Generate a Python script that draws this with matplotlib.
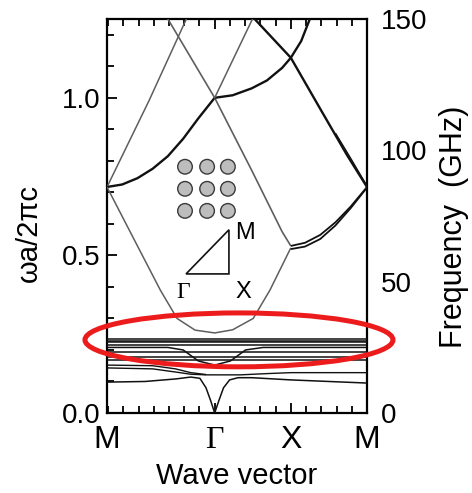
import numpy as np
import matplotlib
matplotlib.use("Agg")
import matplotlib.pyplot as plt
from matplotlib.patches import Ellipse, Polygon

plt.rcParams['font.family'] = ['Liberation Sans', 'DejaVu Sans']

# path through the Brillouin zone: M - Gamma - X - M (k in units of pi/a)
K_M1, K_G, K_X, K_M2 = 0.0, np.sqrt(2.0), np.sqrt(2.0) + 1.0, np.sqrt(2.0) + 2.0
sym_pos = [K_M1, K_G, K_X, K_M2]
sym_labels = ['M', 'Γ', 'X', 'M']

# normalised-frequency ticks (left) and GHz ticks (right)
y_ticks = [0.0, 0.5, 1.0]
ghz_ticks = [0, 50, 100, 150]
GHZ_PER_UNIT = 120.0

# ---- upper (light-like) bands ----
band_a_k = [0.00, 0.55, 1.08]
band_a_w = [0.717, 0.99, 1.27]

band_b_k = [0.00, 0.20, 0.40, 0.60, 0.80, 1.00, 1.20, 1.414]
band_b_w = [0.717, 0.725, 0.745, 0.775, 0.815, 0.870, 0.935, 1.000]

band_c_k = [0.77, 1.414, 1.90, 2.30, 2.414]
band_c_w = [1.262, 1.000, 0.770, 0.575, 0.530]

band_d_k = [0.00, 0.40, 0.70, 0.92, 1.156, 1.414, 1.65, 1.92, 2.14, 2.414]
band_d_w = [0.717, 0.530, 0.390, 0.300, 0.263, 0.254, 0.264, 0.300, 0.390, 0.524]

band_d2_k = [2.414, 2.60, 2.80, 3.00, 3.20, 3.414]
band_d2_w = [0.530, 0.540, 0.565, 0.605, 0.655, 0.717]
band_d3_k = [2.414, 2.60, 2.80, 3.00, 3.20, 3.414]
band_d3_w = [0.520, 0.528, 0.552, 0.595, 0.650, 0.715]

band_e_k = [1.90, 2.414, 2.80, 3.15, 3.414]
band_e_w = [1.260, 1.127, 0.965, 0.819, 0.717]
band_e2_k = [3.00, 3.20, 3.414]
band_e2_w = [0.888, 0.808, 0.720]

band_f_k = [1.414, 1.65, 1.90, 2.10, 2.30, 2.414, 2.55, 2.68]
band_f_w = [1.000, 1.008, 1.030, 1.055, 1.095, 1.127, 1.180, 1.260]

band_g_k = [1.414, 1.93]
band_g_w = [1.000, 1.260]

# ---- low-frequency flat bands ----
flat_levels = [0.235, 0.230, 0.225, 0.216, 0.194, 0.178, 0.168]

band_h_k = [0.00, 0.80, 1.00, 1.20, 1.414, 1.62, 1.82, 2.05, 2.414, 3.414]
band_h_w = [0.208, 0.208, 0.200, 0.165, 0.152, 0.165, 0.200, 0.208, 0.208, 0.208]

band_i_k = [0.00, 0.60, 0.90, 1.10, 1.30]
band_i_w = [0.152, 0.150, 0.140, 0.128, 0.122]

band_j_k = [0.00, 0.60, 0.90, 1.10, 1.30, 1.55, 1.75, 2.10, 2.414, 3.414]
band_j_w = [0.143, 0.140, 0.130, 0.123, 0.121, 0.121, 0.121, 0.125, 0.128, 0.128]

band_l_k = [0.00, 0.50, 0.90, 1.10, 1.22, 1.30, 1.36, 1.414, 1.47, 1.53, 1.61, 1.72, 1.90, 2.414, 3.414]
band_l_w = [0.098, 0.100, 0.108, 0.114, 0.110, 0.080, 0.040, 0.000, 0.040, 0.080, 0.105, 0.112, 0.112, 0.105, 0.095]

fig = plt.figure(figsize=(4.72, 4.93), dpi=100)
ax = fig.add_axes([107 / 472, 1 - 413 / 493, 260 / 472, 394 / 493])

dark = '#111111'
grey = '#5e5e5e'

def draw(k, w, color=dark, lw=1.5):
    ax.plot(k, w, color=color, lw=lw, solid_capstyle='butt', zorder=3)

draw(band_a_k, band_a_w, grey, 1.1)
draw(band_b_k, band_b_w, dark, 1.7)
draw(band_c_k, band_c_w, grey, 1.2)
draw(band_d_k, band_d_w, grey, 1.1)
draw(band_d2_k, band_d2_w, dark, 1.3)
draw(band_d3_k, band_d3_w, dark, 1.3)
draw(band_e_k, band_e_w, dark, 1.7)
draw(band_e2_k, band_e2_w, dark, 1.0)
draw(band_f_k, band_f_w, dark, 1.7)
draw(band_g_k, band_g_w, grey, 1.1)

for lev in flat_levels:
    draw([K_M1, K_M2], [lev, lev], dark, 1.1)
draw(band_h_k, band_h_w, dark, 1.1)
draw(band_i_k, band_i_w, dark, 1.0)
draw(band_j_k, band_j_w, dark, 1.0)
draw(band_l_k, band_l_w, dark, 1.1)

ax.set_xlim(K_M1, K_M2)
ax.set_ylim(0.0, 1.25)

# ticks
ax.set_xticks(sym_pos)
ax.set_xticklabels(sym_labels)
minor_x = np.concatenate([K_G - 0.2 * np.arange(1, 8), K_G + 0.2 * np.arange(1, 11)])
minor_x = minor_x[(minor_x > 0.01) & (minor_x < K_M2 - 0.01)]
ax.set_xticks(minor_x, minor=True)
ax.set_yticks(y_ticks)
ax.set_yticklabels(['0.0', '0.5', '1.0'])
ax.set_yticks(np.arange(0.1, 1.25, 0.1), minor=True)
ax.tick_params(which='both', direction='in', top=True, right=True, width=1.3)
ax.tick_params(which='major', length=7)
ax.tick_params(which='minor', length=5)
ax.tick_params(axis='y', labelsize=20, pad=5)
ax.tick_params(axis='x', labelsize=23, pad=9)
for lbl in ax.get_xticklabels():
    if lbl.get_text() == 'Γ':
        lbl.set_fontfamily(['Liberation Serif', 'DejaVu Serif'])
for sp in ax.spines.values():
    sp.set_linewidth(1.6)

ax.set_xlabel('Wave vector', fontsize=21)
ax.xaxis.label.set_va('center')
ax.xaxis.set_label_coords(0.5, -0.16)
ax.set_ylabel('ωa/2πc', fontsize=21)
ax.yaxis.label.set_va('center')
ax.yaxis.label.set_rotation_mode('default')
ax.yaxis.set_label_coords(-0.30, 0.457)

ax2 = ax.twinx()
ax2.set_ylim(0.0, 1.25 * GHZ_PER_UNIT)
ax2.set_yticks(ghz_ticks)
ax2.tick_params(axis='y', direction='in', length=0, labelsize=20, pad=10)
ax2.set_ylabel('Frequency  (GHz)', fontsize=22)
ax2.yaxis.label.set_va('center')
ax2.yaxis.label.set_rotation_mode('default')
ax2.yaxis.set_label_coords(1.335, 0.472)
for sp in ax2.spines.values():
    sp.set_visible(False)

# inset: square lattice of rods and the irreducible zone
for cx in [0.300, 0.385, 0.465]:
    for cy in [0.625, 0.569, 0.513]:
        ax.add_patch(Ellipse((cx, cy), 14.6 / 260, 14.6 / 394, transform=ax.transAxes,
                             facecolor='#bdbdbd', edgecolor='#3a3a3a', lw=1.0, zorder=4))
tri = Polygon([[0.304, 0.353], [0.469, 0.353], [0.469, 0.465]], closed=True, fill=False,
              edgecolor=dark, lw=1.2, transform=ax.transAxes, zorder=4)
ax.add_patch(tri)
ax.text(0.292, 0.305, 'Γ', transform=ax.transAxes, fontsize=17, ha='center', va='center',
        family=['Liberation Serif', 'DejaVu Serif'])
ax.text(0.523, 0.307, 'X', transform=ax.transAxes, fontsize=17, ha='center', va='center')
ax.text(0.531, 0.457, 'M', transform=ax.transAxes, fontsize=17, ha='center', va='center')

# highlighted flat-band region
ax.add_patch(Ellipse((1.733, 0.232), 4.045, 0.171, fill=False, edgecolor='#ec1c1c',
                     lw=3.6, clip_on=False, zorder=10))

fig.savefig('out.png', dpi=100)
